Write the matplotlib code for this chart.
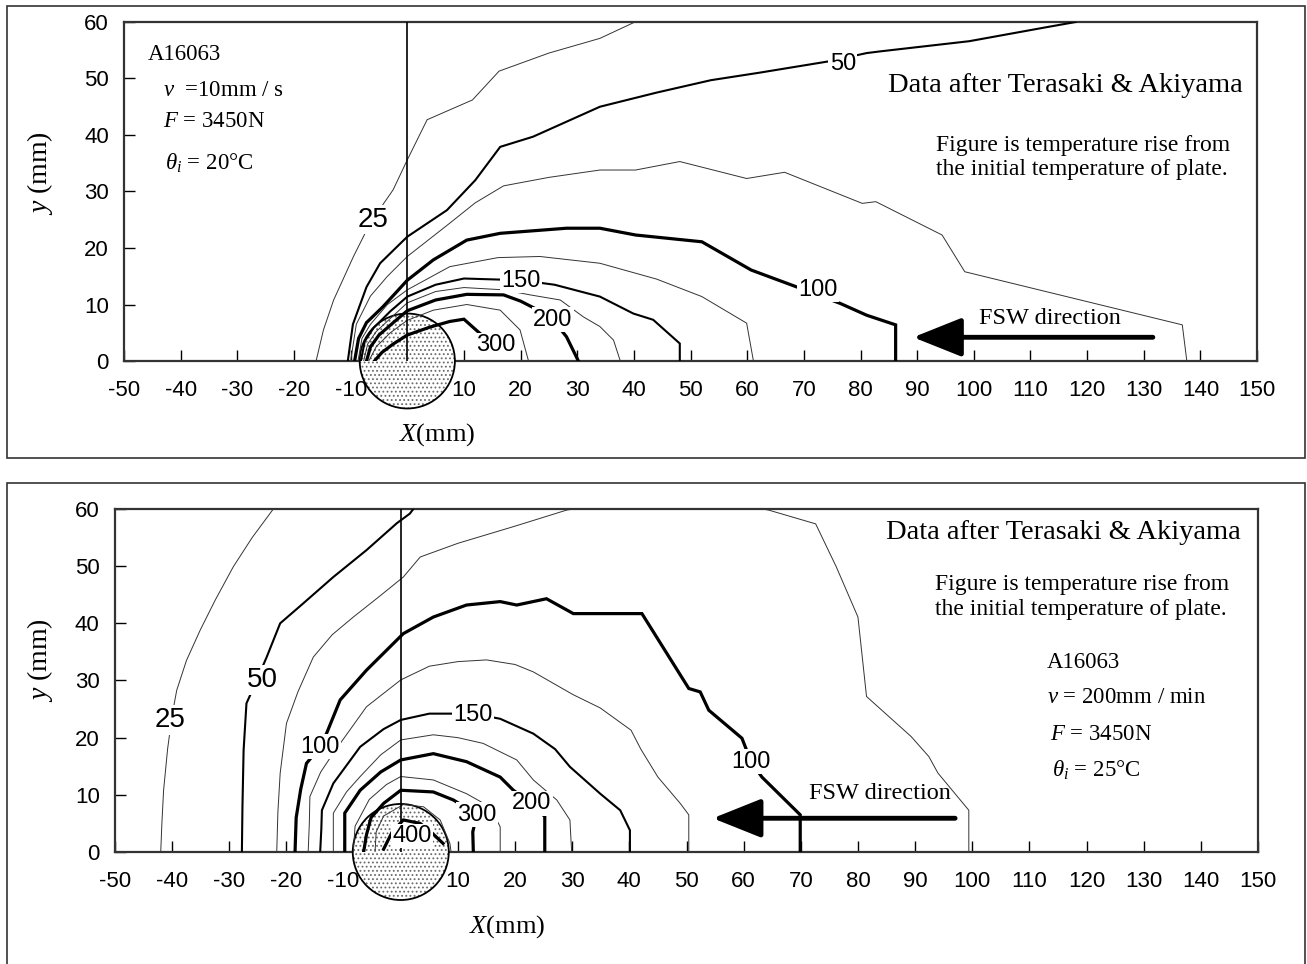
import matplotlib
matplotlib.use("Agg")
import matplotlib.pyplot as plt
from matplotlib.patches import Circle, Rectangle

plt.rcParams['font.family'] = ['Liberation Sans', 'DejaVu Sans']
plt.rcParams['axes.unicode_minus'] = False
plt.rcParams['mathtext.fontset'] = 'custom'
plt.rcParams['mathtext.rm'] = 'Liberation Serif'
plt.rcParams['mathtext.it'] = 'Liberation Serif:italic'
plt.rcParams['mathtext.bf'] = 'Liberation Serif:bold'
plt.rcParams['hatch.linewidth'] = 0.8

SERIF = ['Liberation Serif', 'DejaVu Serif']

x_ticks = list(range(-50, 151, 10))
y_ticks = list(range(0, 61, 10))
tool_radius = 8.4

# temperature rise contours, v = 10 mm/s (upper panel), points (x mm, y mm)
t25 = [(-16.1, 0), (-14.8, 5.5), (-13.0, 10.8), (-9.5, 18.5), (-6.5, 24.5), (-2.5, 30.3), (0, 35.6),
       (3.5, 42.7), (11.5, 46.2), (16.2, 51.3), (25, 54.5), (34, 57.1), (40.2, 60)]
t50 = [(-10.5, 0), (-9.6, 6.5), (-7.2, 13.1), (-4.8, 17.3), (0, 22), (7, 26.7), (12, 32), (16.4, 37.9),
       (22.2, 39.7), (34, 45), (44, 47.5), (53.6, 49.7), (62, 51), (74.2, 53), (81.1, 54.5), (83.5, 54.8),
       (99.2, 56.6), (112.4, 59), (118, 60)]
t75 = [(-10, 0), (-9, 6.5), (-6.5, 11.5), (-3.5, 15), (0, 18.5), (7, 24), (12, 28), (17, 31), (25, 32.5),
       (34, 33.8), (40.3, 33.8), (48.1, 35.3), (59.9, 32.3), (66.6, 33.4), (80.3, 27.9), (82.7, 28.2),
       (94.4, 22.3), (98.4, 15.8), (118, 11), (136.8, 6.4), (137.6, 0)]
t100 = [(-9.3, 0), (-8.6, 4), (-7.2, 6.8), (-4.3, 9.6), (0, 14.3), (4.6, 17.9), (10.5, 21.4), (16.4, 22.6),
        (28.1, 23.5), (34, 23.5), (40.3, 22.3), (52, 21.1), (60.7, 16.1), (68.5, 13.2), (76.4, 10.2),
        (81.1, 8.1), (86.2, 6.4), (86.2, 0)]
t125 = [(-8.7, 0), (-8, 4), (-6.5, 6.5), (-3.5, 10), (0, 12.6), (7.5, 16.7), (16, 18.3), (23.4, 18.5),
        (34, 17.3), (44, 14.5), (52, 11.4), (59.9, 6.7), (61.1, 0)]
t150 = [(-8.2, 0), (-7.5, 3.5), (-6, 5.8), (-3, 8.8), (0, 11.4), (5, 13.5), (10, 14.6), (20, 14.3),
        (26, 13.5), (34, 11.4), (39.9, 8.4), (43.4, 7.3), (48.1, 3.1), (48.1, 0)]
t175 = [(-7.7, 0), (-7, 3), (-5.5, 5.2), (-2.5, 8), (0, 10.3), (5, 12.3), (10, 13.0), (17, 12.6),
        (21.7, 11.7), (27, 10.8), (31.1, 7.8), (34, 6.1), (36.4, 3.7), (37.6, 0)]
t200 = [(-7.2, 0), (-6.5, 2.5), (-5, 4.6), (-2, 7.2), (0, 8.9), (5, 10.8), (10.5, 11.8), (17, 11.7),
        (20, 10.6), (23.5, 8.8), (25.7, 7.3), (28.1, 4.3), (30.2, 0)]
t250 = [(-6.8, 0), (-5.5, 2.5), (-3, 5), (0, 7.2), (4.6, 9.0), (10.5, 10.0), (16.4, 9.0), (19.9, 5.5),
        (21.4, 0)]
t300 = [(-5.8, 0), (-4.5, 1.5), (-2.5, 3), (0, 4.6), (4, 6), (7.5, 7.0), (10, 7.4), (12.8, 4.9),
        (15.7, 2.8)]

# temperature rise contours, v = 200 mm/min (lower panel)
b25 = [(-42.0, 0), (-41.8, 5), (-41.5, 10.8), (-40.8, 18), (-40.0, 24), (-39.2, 28.3), (-37.5, 33.5),
       (-35.1, 38.8), (-32.5, 44), (-29.3, 49.9), (-26, 55), (-22.3, 60)]
b50 = [(-27.8, 0), (-27.7, 8), (-27.5, 17.8), (-27.0, 26.0), (-26.1, 28), (-23.5, 34), (-21.1, 40),
       (-17.05, 43.5), (-11.8, 48.1), (-6.0, 52.8), (-0.7, 57.5), (1.6, 59.2), (2.2, 60)]
b75 = [(-21.7, 0), (-21.5, 7), (-21.1, 13.8), (-20, 22.5), (-18, 28), (-15.3, 34.1), (-12, 38),
       (-8.3, 41.1), (-4, 44.5), (0.45, 48.1), (3.4, 51.6), (10, 54), (20, 57), (29, 59.8), (40, 61.5),
       (55, 61.5), (64.4, 59.8), (72.6, 57.4), (76.2, 49.9), (80, 41.1), (81.5, 27.2), (89.3, 20.2),
       (92.4, 16.7), (94, 13.8), (99.4, 7.3), (99.4, 0)]
b100 = [(-18.5, 0), (-18.3, 6), (-17.5, 11), (-16.5, 15.5), (-14.1, 18.4), (-13.0, 20.7), (-10.6, 26.6),
        (-6, 31.8), (0.45, 38.2), (5.7, 41.1), (11.5, 43.2), (17.4, 43.8), (20.3, 43.2), (25.5, 44.3),
        (30.2, 41.7), (34.9, 41.7), (42.2, 41.7), (50.4, 28.6), (52.4, 28.0), (53.9, 24.8), (59.7, 19.9),
        (61.3, 15.8), (63.2, 13.1), (69.9, 6.5), (69.9, 0)]
b125 = [(-16.2, 0), (-16, 5), (-15.9, 9.7), (-14, 14), (-11.8, 17.3), (-6, 25.4), (0, 30.1), (5, 32.5),
        (10, 33.3), (15, 33.6), (20, 32.8), (23.2, 31.5), (30.2, 27.5), (34.9, 25.2), (40.3, 21.3),
        (42, 18), (45, 13.1), (48.9, 8.5), (50.4, 6.5), (50.4, 0)]
b150 = [(-14.1, 0), (-13.9, 4), (-13.8, 7.3), (-11.8, 12), (-7.1, 18.4), (-3, 21.5), (0, 23.1), (5, 24.2),
        (12.7, 24.2), (17.4, 23.3), (23.2, 20.7), (27, 18), (29.6, 14.9), (34.9, 10.2), (38.4, 7.3),
        (40.1, 3.8), (40.1, 0)]
b175 = [(-11.8, 0), (-11.8, 6.8), (-9.5, 10.5), (-7.1, 13.2), (-3.5, 17), (0, 19.6), (5.7, 20.5),
        (10, 20), (14.4, 19), (20.3, 16.1), (23.2, 12.6), (27.3, 9.1), (29.6, 5.6), (29.9, 0)]
b200 = [(-9.8, 0), (-9.8, 6.8), (-7.1, 10.8), (-3.5, 14), (0, 16.1), (5.7, 17.2), (11.5, 15.8),
        (17.4, 13.1), (19.7, 10.8), (22.9, 8.5), (25.2, 6.2), (25.2, 0)]
b250 = [(-8.3, 0), (-8, 4.5), (-5.5, 9.2), (-2.5, 11.8), (0, 13.2), (5.7, 12.6), (11.5, 10.2),
        (15.6, 7.9), (17.4, 4.4), (17.4, 0)]
b300 = [(-6.5, 0), (-6, 3), (-5.2, 6), (-3, 8.5), (0, 10.8), (5.7, 10.5), (9.2, 9.1), (11, 8),
        (13.3, 6.5), (12.6, 3.5), (12.7, 0)]
b350 = [(-4.5, 0), (-4.3, 3.5), (-3, 6.3), (0.45, 8.3), (4, 7.9), (6.9, 5.6), (8.6, 1.5), (8.8, 0)]
b400 = [(-3.0, 0.5), (-1.5, 3.5), (0.45, 5.6), (3.4, 5.0), (5.5, 3.3), (7.4, 1.5)]

top_levels = [25, 50, 75, 100, 125, 150, 175, 200, 250, 300]
top_lines = [t25, t50, t75, t100, t125, t150, t175, t200, t250, t300]
bot_levels = [25, 50, 75, 100, 125, 150, 175, 200, 250, 300, 350, 400]
bot_lines = [b25, b50, b75, b100, b125, b150, b175, b200, b250, b300, b350, b400]

# contour labels: text, x, y
top_labels = [("25", -6.0, 25.0), ("50", 76.9, 52.6), ("100", 72.5, 12.6), ("150", 20.1, 14.2),
              ("200", 25.7, 7.3), ("300", 15.7, 2.8)]
bot_labels = [("25", -40.4, 23.1), ("50", -24.3, 30.1), ("100", -14.1, 18.4), ("150", 12.7, 23.9),
              ("200", 22.9, 8.5), ("300", 13.3, 6.5), ("400", 2.0, 2.8), ("100", 61.3, 15.8)]

weight = {25: 0.7, 50: 1.5, 75: 0.7, 100: 2.3, 125: 0.7, 150: 1.5, 175: 0.7, 200: 2.3,
          250: 0.7, 300: 2.3, 350: 0.7, 400: 2.3}

fig = plt.figure(figsize=(13.07, 9.64), dpi=100)

# panel frames
for y0, h in [(0.5249, 0.4689), (-0.02, 0.519)]:
    fig.patches.append(Rectangle((0.0054, y0), 0.9931, h, transform=fig.transFigure,
                                 fill=False, ec='#333333', lw=1.2))

ax1 = fig.add_axes([0.0949, 0.6255, 0.8669, 0.3517])
ax2 = fig.add_axes([0.0880, 0.1162, 0.8745, 0.3558])


def draw_panel(ax, levels, lines, labels, xlab_pos, ylab_pos):
    ax.set_xlim(-50, 150)
    ax.set_ylim(0, 60)
    ax.set_xticks(x_ticks)
    ax.set_yticks(y_ticks)
    ax.tick_params(axis='x', direction='in', length=8, width=1, pad=14, labelsize=16)
    ax.tick_params(axis='y', direction='in', length=8, width=1, pad=11, labelsize=16)
    for s in ax.spines.values():
        s.set_linewidth(1.6)
        s.set_color('#333333')
    for lev, pts in zip(levels, lines):
        xs = [p[0] for p in pts]
        ys = [p[1] for p in pts]
        ax.plot(xs, ys, color='black' if weight[lev] > 1 else '#333333', lw=weight[lev],
                zorder=2.7, solid_joinstyle='miter')
    ax.plot([0, 0], [0, 60], color='black', lw=1.2, zorder=2.7)
    # tool shoulder: grey stipple plus a black outline
    ax.add_patch(Circle((0, 0), tool_radius, fc='white', ec='#6a6a6a', lw=0, hatch='....',
                        clip_on=False, zorder=2.6))
    ax.add_patch(Circle((0, 0), tool_radius, fill=False, ec='black', lw=1.3,
                        clip_on=False, zorder=2.65))
    for txt, x, y in labels:
        big = txt in ("25", "50") and x < 0
        ax.text(x, y, txt, ha='center', va='center', fontsize=20 if big else 17,
                zorder=2.8, bbox=dict(boxstyle='square,pad=0.06', fc='white', ec='none'))
    ax.set_xlabel(r'$X$(mm)', family=SERIF, fontsize=19, va='top')
    ax.xaxis.set_label_coords(*xlab_pos)
    ax.set_ylabel(r'$y$ (mm)', family=SERIF, fontsize=20)
    ax.yaxis.set_label_coords(*ylab_pos)


draw_panel(ax1, top_levels, top_lines, top_labels, (0.276, -0.177), (-0.061, 0.555))
draw_panel(ax2, bot_levels, bot_lines, bot_labels, (0.343, -0.178), (-0.0525, 0.56))

# upper panel annotations
ax1.text(-45.8, 54.2, 'A16063', family=SERIF, fontsize=16.5, va='center')
ax1.text(-43.1, 47.8, r'$\mathbf{\mathit{v}}$  =10mm / s', family=SERIF, fontsize=16.5, va='center')
ax1.text(-43.1, 42.3, r'$F$ = 3450N', family=SERIF, fontsize=16.5, va='center')
ax1.text(-42.8, 35.0, r'$\theta_i$ = 20°C', family=SERIF, fontsize=16.5, va='center')
ax1.text(147.5, 48.8, 'Data after Terasaki & Akiyama', family=SERIF, fontsize=20.5, ha='right', va='center')
ax1.text(93.3, 36.0, 'Figure is temperature rise from\nthe initial temperature of plate.',
         family=SERIF, fontsize=17, ha='left', va='center', linespacing=1.2)
ax1.annotate('', xy=(89.3, 4.2), xytext=(131.6, 4.2),
             arrowprops=dict(arrowstyle='-|>,head_length=3.0,head_width=1.2', lw=3.5, color='black',
                             shrinkA=0, shrinkB=0))
ax1.text(113.5, 7.6, 'FSW direction', family=SERIF, fontsize=17.5, ha='center', va='center')

# lower panel annotations
ax2.text(146.9, 55.9, 'Data after Terasaki & Akiyama', family=SERIF, fontsize=20.5, ha='right', va='center')
ax2.text(93.5, 44.6, 'Figure is temperature rise from\nthe initial temperature of plate.',
         family=SERIF, fontsize=17, ha='left', va='center', linespacing=1.2)
ax2.text(113.1, 33.2, 'A16063', family=SERIF, fontsize=16.5, va='center')
ax2.text(113.1, 27.1, r'$\mathbf{\mathit{v}}$ = 200mm / min', family=SERIF, fontsize=16.5, va='center')
ax2.text(113.6, 20.6, r'$F$ = 3450N', family=SERIF, fontsize=16.5, va='center')
ax2.text(113.9, 14.3, r'$\theta_i$ = 25°C', family=SERIF, fontsize=16.5, va='center')
ax2.annotate('', xy=(54.6, 5.9), xytext=(97.0, 5.9),
             arrowprops=dict(arrowstyle='-|>,head_length=3.0,head_width=1.2', lw=3.5, color='black',
                             shrinkA=0, shrinkB=0))
ax2.text(83.9, 10.3, 'FSW direction', family=SERIF, fontsize=17.5, ha='center', va='center')

fig.savefig('out.png', dpi=100)
